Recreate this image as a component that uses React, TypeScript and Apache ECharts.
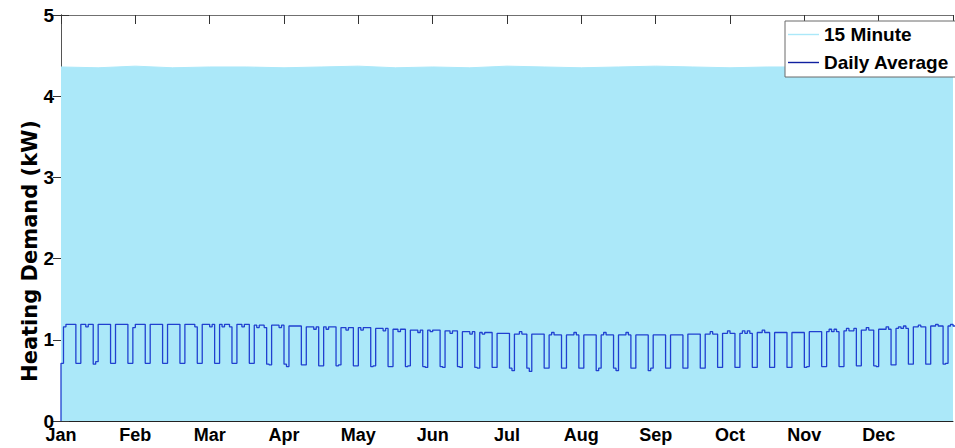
import React, { useEffect, useRef } from "react";
import * as echarts from "echarts";

// Month labels placed every 30 days along the x axis
const monthLabels = ["Jan", "Feb", "Mar", "Apr", "May", "Jun", "Jul", "Aug", "Sep", "Oct", "Nov", "Dec"];

// Peak of the 15-minute heating trace, sampled every 15 days (kW)
const peakSampleDays = [0, 15, 30, 45, 60, 75, 90, 105, 120, 135, 150, 165, 180, 195, 210, 225, 240, 255, 270, 285, 300, 315, 330, 345, 360];
const fifteenMinutePeakKW = [4.36, 4.35, 4.37, 4.35, 4.36, 4.36, 4.35, 4.36, 4.37, 4.35, 4.36, 4.35, 4.37, 4.36, 4.35, 4.36, 4.37, 4.36, 4.35, 4.36, 4.36, 4.35, 4.35, 4.36, 4.36];

// Daily average heating demand (kW), one row per week, Sunday to Saturday
const dailyAverageKW = [
  [0.71, 1.16, 1.19, 1.19, 1.19, 1.19, 0.71],
  [0.71, 1.19, 1.19, 1.16, 1.19, 1.19, 0.70],
  [0.73, 1.19, 1.19, 1.19, 1.19, 1.19, 0.71],
  [0.71, 1.19, 1.19, 1.19, 1.19, 1.19, 0.71],
  [0.71, 1.15, 1.19, 1.19, 1.19, 1.19, 0.71],
  [0.71, 1.19, 1.19, 1.19, 1.19, 1.19, 0.71],
  [0.71, 1.19, 1.19, 1.19, 1.19, 1.19, 0.71],
  [0.71, 1.19, 1.19, 1.19, 1.19, 1.16, 0.71],
  [0.71, 1.19, 1.19, 1.19, 1.16, 1.19, 0.71],
  [0.71, 1.19, 1.16, 1.19, 1.19, 1.16, 0.71],
  [0.71, 1.19, 1.19, 1.16, 1.19, 1.19, 0.71],
  [0.71, 1.18, 1.15, 1.18, 1.18, 1.15, 0.70],
  [0.69, 1.18, 1.18, 1.18, 1.15, 1.18, 0.70],
  [0.67, 1.17, 1.17, 1.17, 1.17, 1.17, 0.69],
  [0.69, 1.16, 1.16, 1.16, 1.13, 1.16, 0.68],
  [0.68, 1.16, 1.13, 1.16, 1.16, 1.16, 0.68],
  [0.69, 1.15, 1.15, 1.12, 1.15, 1.15, 0.68],
  [0.68, 1.15, 1.12, 1.15, 1.15, 1.15, 0.67],
  [0.68, 1.14, 1.14, 1.14, 1.11, 1.14, 0.67],
  [0.67, 1.13, 1.13, 1.10, 1.13, 1.13, 0.67],
  [0.68, 1.12, 1.12, 1.12, 1.09, 1.12, 0.67],
  [0.66, 1.12, 1.10, 1.12, 1.12, 1.12, 0.67],
  [0.66, 1.11, 1.11, 1.08, 1.11, 1.11, 0.67],
  [0.66, 1.10, 1.10, 1.10, 1.07, 1.10, 0.66],
  [0.65, 1.09, 1.07, 1.09, 1.09, 1.09, 0.66],
  [0.66, 1.08, 1.08, 1.08, 1.08, 1.08, 0.65],
  [0.62, 1.07, 1.07, 1.10, 1.07, 1.07, 0.65],
  [0.61, 1.07, 1.07, 1.07, 1.07, 1.07, 0.65],
  [0.65, 1.06, 1.09, 1.06, 1.06, 1.06, 0.65],
  [0.65, 1.06, 1.06, 1.06, 1.09, 1.06, 0.65],
  [0.65, 1.06, 1.06, 1.06, 1.06, 1.06, 0.62],
  [0.65, 1.06, 1.09, 1.06, 1.06, 1.06, 0.65],
  [0.62, 1.06, 1.06, 1.06, 1.09, 1.06, 0.65],
  [0.65, 1.06, 1.06, 1.06, 1.06, 1.06, 0.62],
  [0.65, 1.06, 1.06, 1.06, 1.06, 1.06, 0.65],
  [0.65, 1.06, 1.06, 1.06, 1.06, 1.06, 0.65],
  [0.65, 1.07, 1.07, 1.07, 1.07, 1.07, 0.65],
  [0.65, 1.07, 1.07, 1.10, 1.07, 1.07, 0.66],
  [0.66, 1.08, 1.08, 1.11, 1.08, 1.08, 0.66],
  [0.66, 1.08, 1.11, 1.08, 1.11, 1.08, 0.66],
  [0.66, 1.09, 1.09, 1.12, 1.09, 1.09, 0.66],
  [0.66, 1.09, 1.09, 1.09, 1.09, 1.09, 0.66],
  [0.66, 1.09, 1.09, 1.09, 1.09, 1.09, 0.66],
  [0.67, 1.10, 1.10, 1.10, 1.10, 1.10, 0.67],
  [0.67, 1.10, 1.13, 1.10, 1.13, 1.10, 0.67],
  [0.67, 1.11, 1.14, 1.11, 1.11, 1.14, 0.68],
  [0.68, 1.12, 1.12, 1.15, 1.12, 1.12, 0.68],
  [0.67, 1.13, 1.13, 1.13, 1.16, 1.13, 0.69],
  [0.69, 1.14, 1.16, 1.14, 1.17, 1.14, 0.70],
  [0.70, 1.16, 1.16, 1.18, 1.16, 1.16, 0.70],
  [0.70, 1.17, 1.17, 1.19, 1.17, 1.17, 0.70],
  [0.71, 1.17, 1.19, 1.17, 1.17, 1.19, 0.71],
  [0.71],
].flat();

const FILL = "#abe8f9";
const LINE = "#2040d0";
const FONT = "'Liberation Sans', Arial, Helvetica, sans-serif";

export default function App() {
  const ref = useRef<HTMLDivElement>(null);

  useEffect(() => {
    if (!ref.current) return;
    const chart = echarts.init(ref.current, null, { renderer: "svg" });

    // stairs: each day's value is held from the day's start to its end
    const dailyPoints: number[][] = [[0, 0]];
    dailyAverageKW.forEach((v, i) => dailyPoints.push([i + 1, v]));
    const peakPoints = peakSampleDays.map((d, i) => [d, fifteenMinutePeakKW[i]]);

    const xCommon = {
      type: "value" as const,
      min: 0,
      max: 360,
      interval: 30,
      splitLine: { show: false },
    };
    const yCommon = {
      type: "value" as const,
      min: 0,
      max: 5,
      interval: 1,
      splitLine: { show: false },
    };

    chart.setOption({
      animation: false,
      backgroundColor: "#ffffff",
      grid: { left: 61, right: 2, top: 15, bottom: 27, containLabel: false },
      xAxis: [
        {
          ...xCommon,
          position: "bottom",
          axisLine: { onZero: false, lineStyle: { color: "#222", width: 1 } },
          axisTick: { inside: true, length: 4, lineStyle: { color: "#555" } },
          axisLabel: {
            color: "#000",
            fontFamily: FONT,
            fontWeight: "bold",
            fontSize: 18,
            margin: 5,
            showMaxLabel: false,
            formatter: (v: number) => monthLabels[Math.round(v / 30)] ?? "",
          },
        },
        {
          ...xCommon,
          position: "top",
          axisLine: { onZero: false, lineStyle: { color: "#707070", width: 1 } },
          axisTick: { inside: true, length: 9, lineStyle: { color: "#333" } },
          axisLabel: { show: false },
        },
      ],
      yAxis: [
        {
          ...yCommon,
          position: "left",
          axisLine: { show: true, lineStyle: { color: "#333", width: 1 } },
          axisTick: { show: true, inside: true, length: 8, lineStyle: { color: "#333" } },
          axisLabel: {
            color: "#000",
            fontFamily: FONT,
            fontWeight: "bold",
            fontSize: 19,
            margin: 7,
            padding: [0, 0, 4, 0],
          },
        },
        {
          ...yCommon,
          position: "right",
          axisLine: { show: true, lineStyle: { color: "#555", width: 1 } },
          axisTick: { show: true, inside: true, length: 8, lineStyle: { color: "#333" } },
          axisLabel: { show: false },
        },
      ],
      legend: {
        orient: "vertical",
        left: 785,
        top: 21,
        padding: [4, 40, 5, 3],
        itemWidth: 31,
        itemHeight: 1.4,
        itemGap: 9,
        icon: "rect",
        backgroundColor: "#ffffff",
        borderColor: "#6a6a6a",
        borderWidth: 1,
        textStyle: { color: "#000", fontFamily: FONT, fontWeight: "bold", fontSize: 19, lineHeight: 19 },
        data: [
          { name: "15 Minute", itemStyle: { color: FILL } },
          { name: "Daily Average", itemStyle: { color: "#1020a0" } },
        ],
      },
      graphic: [
        {
          type: "text",
          x: 30,
          y: 251,
          rotation: Math.PI / 2,
          style: {
            text: "Heating Demand (kW)",
            fill: "#000",
            font: "bold 21px 'DejaVu Sans', sans-serif",
            align: "center",
            verticalAlign: "middle",
          },
        },
      ],
      series: [
        {
          name: "15 Minute",
          type: "line",
          xAxisIndex: 0,
          yAxisIndex: 0,
          data: peakPoints,
          symbol: "none",
          lineStyle: { color: FILL, width: 1 },
          itemStyle: { color: FILL },
          areaStyle: { color: FILL, opacity: 1 },
          z: 2,
        },
        {
          name: "Daily Average",
          type: "line",
          xAxisIndex: 0,
          yAxisIndex: 0,
          data: dailyPoints,
          step: "start",
          symbol: "none",
          lineStyle: { color: LINE, width: 1.3 },
          itemStyle: { color: "#1020a0" },
          z: 3,
        },
      ],
    });

    return () => chart.dispose();
  }, []);

  return (
    <div
      ref={ref}
      style={{ position: "fixed", left: 0, top: 0, width: 955, height: 448, background: "#fff" }}
    />
  );
}
